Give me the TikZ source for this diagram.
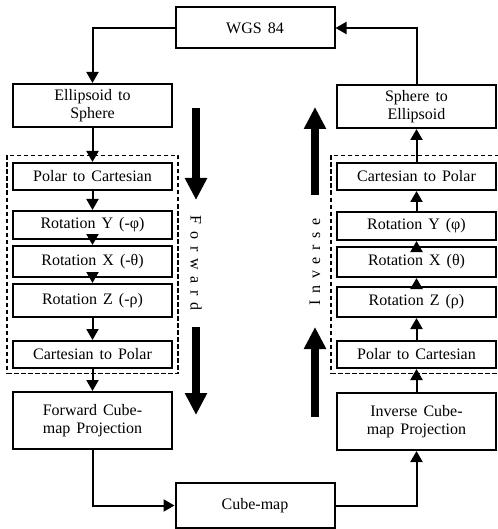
\documentclass[tikz,border=0pt]{standalone}
\usepackage{fontspec}
\setmainfont{Liberation Serif}[WordSpace=1.5]
\usetikzlibrary{arrows.meta}
\begin{document}
\begin{tikzpicture}[x=1pt,y=-1pt,
  box/.style={draw,line width=2pt,rectangle,inner sep=0pt,align=center,
    font=\fontsize{16}{18.5}\selectfont,minimum width=159pt},
  flow/.style={line width=2pt,-{Triangle[length=11pt,width=12pt]}},
  dbox/.style={draw,line width=1.7pt,dash pattern=on 4.5pt off 2.5pt},
  big/.style={line width=8pt,-{Triangle[length=22pt,width=21pt]}},
  vtext/.style={font=\fontsize{16}{18}\selectfont\addfontfeature{LetterSpace=42}}]
\useasboundingbox (0,0) rectangle (497,529);
% boxes
\node[box,minimum height=41pt] (wgs) at (255,28) {WGS 84};
\node[box,minimum height=45pt] (cube) at (255,505.5) {Cube-map};
\node[box,minimum height=43pt] (ell) at (92.5,105.5) {Ellipsoid to\\Sphere};
\node[box,minimum height=27pt] (lpc) at (92.5,176.5) {Polar to Cartesian};
\node[box,minimum height=28pt] (lry) at (92.5,225) {Rotation Y (-φ)};
\node[box,minimum height=31pt] (lrx) at (92.5,261.5) {Rotation X (-θ)};
\node[box,minimum height=33pt] (lrz) at (92.5,300.5) {Rotation Z (-ρ)};
\node[box,minimum height=27pt] (lcp) at (92.5,354.5) {Cartesian to Polar};
\node[box,minimum height=57pt] (fwd) at (92.5,420.5) {Forward Cube-\\map Projection};
\node[box,minimum height=43pt] (sph) at (416.5,106.5) {Sphere to\\Ellipsoid};
\node[box,minimum height=27pt] (rcp) at (416.5,176.5) {Cartesian to Polar};
\node[box,minimum height=28pt] (rry) at (416.5,226) {Rotation Y (φ)};
\node[box,minimum height=30pt] (rrx) at (416.5,262) {Rotation X (θ)};
\node[box,minimum height=30pt] (rrz) at (416.5,302) {Rotation Z (ρ)};
\node[box,minimum height=27pt] (rpc) at (416.5,354.5) {Polar to Cartesian};
\node[box,minimum height=57pt] (inv) at (416.5,421.5) {Inverse Cube-\\map Projection};
% dashed groups
\node[dbox,minimum width=171pt,minimum height=218pt] (lgrp) at (92.5,264.5) {};
\node[dbox,minimum width=171pt,minimum height=218pt] (rgrp) at (416.5,264.5) {};
% connectors
\coordinate (c1) at (ell.north |- wgs.west);
\draw[flow] (wgs.west) -- (c1) -- (ell.north);
\draw[flow] (ell) -- (lpc);
\draw[flow] (lpc) -- (lry);
\draw[flow] (lry) -- (lrx);
\draw[flow] (lrx) -- (lrz);
\draw[flow] (lrz) -- (lcp);
\draw[flow] (lcp) -- (fwd);
\coordinate (c2) at (fwd.south |- cube.west);
\draw[flow] (fwd.south) -- (c2) -- (cube.west);
\coordinate (c3) at (inv.south |- cube.east);
\draw[flow] (cube.east) -- (c3) -- (inv.south);
\draw[flow] (inv) -- (rpc);
\draw[flow] (rpc) -- (rrz);
\draw[flow] (rrz) -- (rrx);
\draw[flow] (rrx) -- (rry);
\draw[flow] (rry) -- (rcp);
\draw[flow] (rcp) -- (sph);
\coordinate (c4) at (sph.north |- wgs.east);
\draw[flow] (sph.north) -- (c4) -- (wgs.east);
% big direction arrows
\coordinate (f1) at (196,108);
\coordinate (f2) at (196,200);
\coordinate (f3) at (196,327);
\coordinate (f4) at (196,415);
\draw[big] (f1) -- (f2);
\draw[big] (f3) -- (f4);
\node[vtext,rotate=-90] (fw) at (196,263) {Forward};
\coordinate (i1) at (315,417);
\coordinate (i2) at (315,327);
\coordinate (i3) at (315,195);
\coordinate (i4) at (315,107);
\draw[big] (i1) -- (i2);
\draw[big] (i3) -- (i4);
\node[vtext,rotate=90] (iv) at (315,262) {Inverse};
\end{tikzpicture}
\end{document}
